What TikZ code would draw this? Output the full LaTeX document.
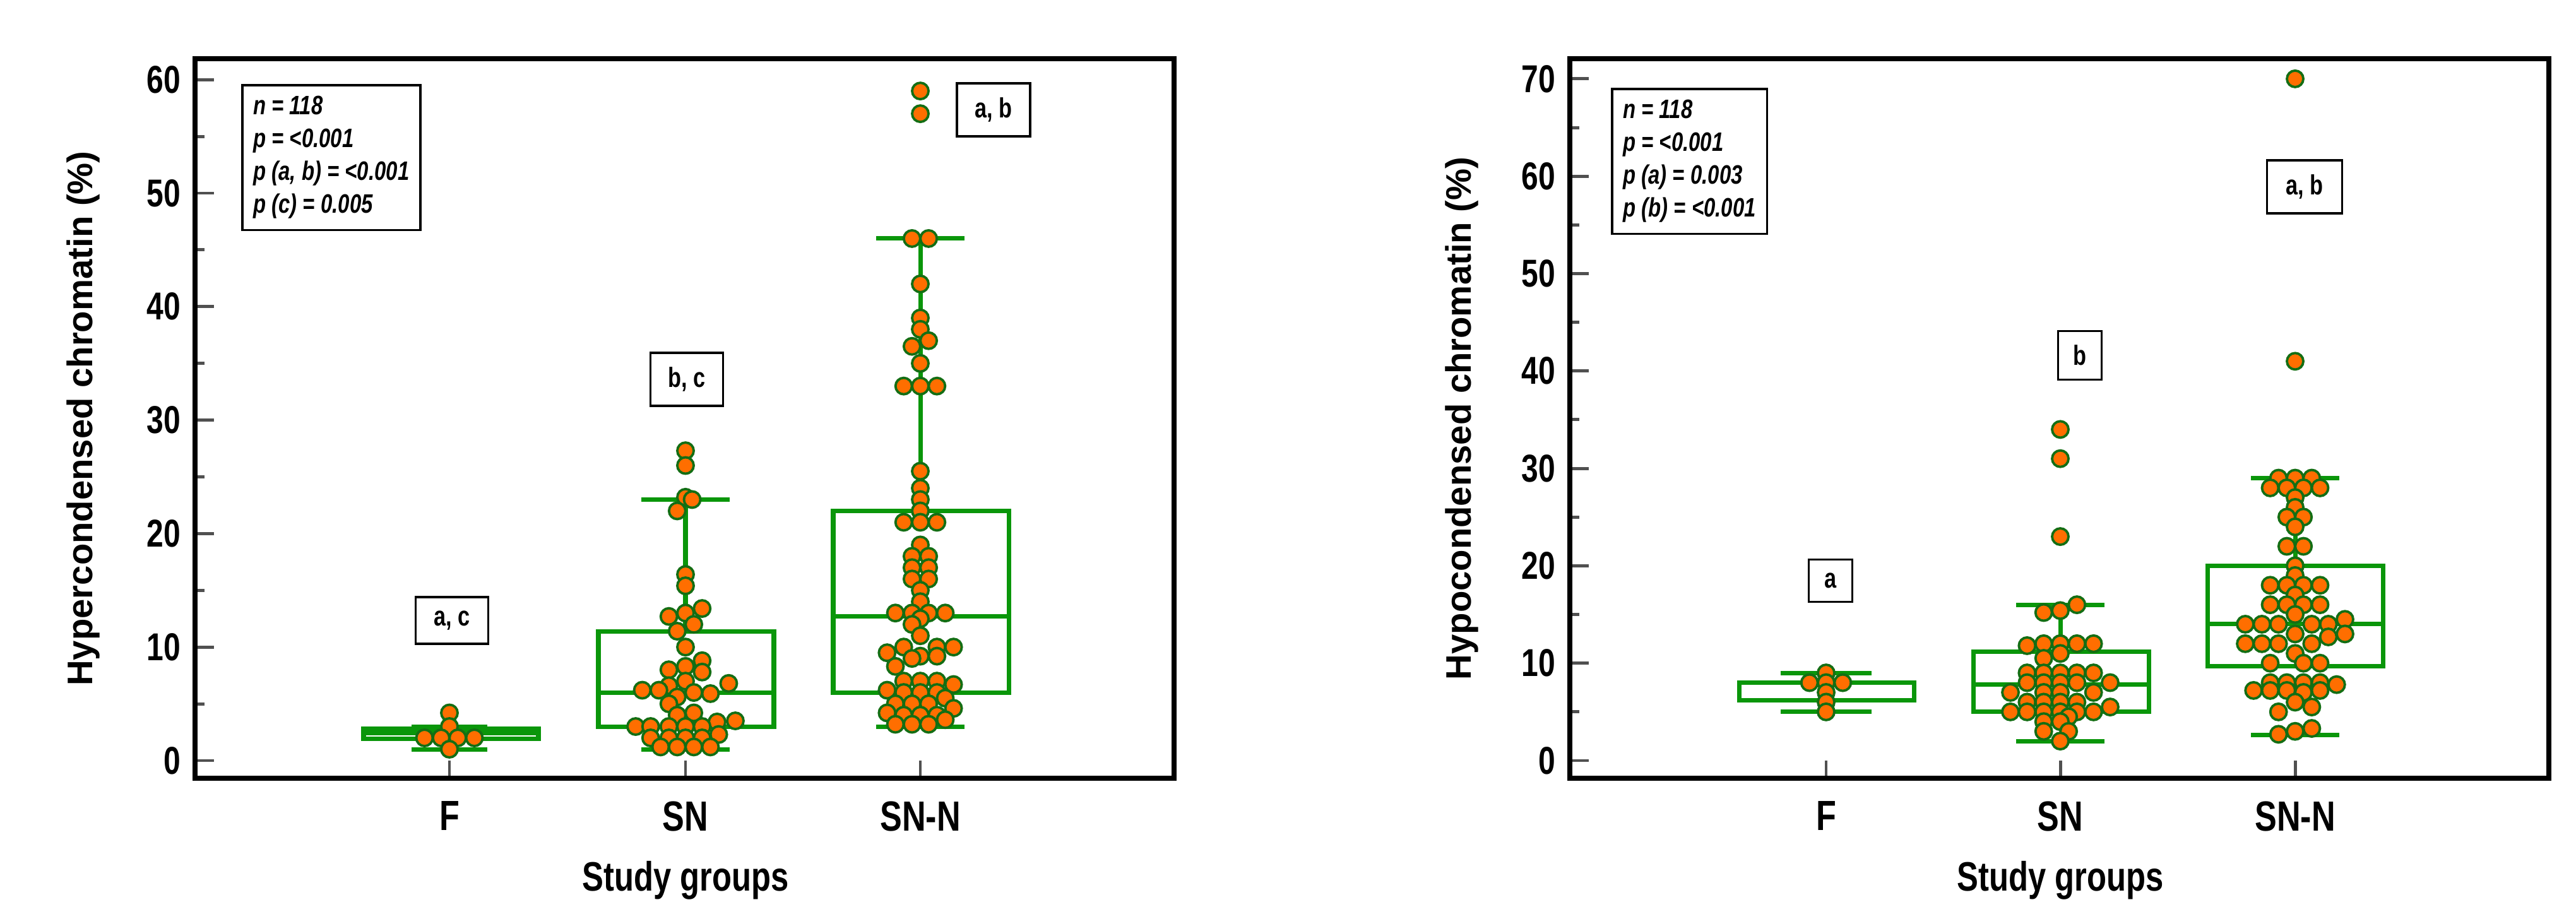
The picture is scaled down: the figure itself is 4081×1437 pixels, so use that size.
\documentclass[tikz,border=0pt]{standalone}
\usepackage{fontspec}
\setmainfont{Liberation Sans}
\newfontfamily\cond{Liberation Sans}[FakeStretch=0.78]
\definecolor{bxg}{RGB}{10,150,10}
\definecolor{dotor}{RGB}{255,110,0}
\definecolor{dotbd}{RGB}{20,110,20}
\definecolor{tkg}{RGB}{80,80,80}
\tikzset{
 frame/.style={draw=black,line width=2.2pt},
 bx/.style={draw=bxg,line width=2pt},
 dotst/.style={fill=dotor,draw=dotbd,line width=1.1pt},
 tk/.style={draw=tkg,line width=1.4pt},
 ticklab/.style={anchor=east,font=\cond\bfseries\fontsize{17.5}{19}\selectfont,inner sep=0pt},
 catlab/.style={font=\cond\bfseries\fontsize{19}{21}\selectfont},
 axlab/.style={font=\cond\bfseries\fontsize{18.5}{21}\selectfont},
 ylab/.style={font=\bfseries\fontsize{16}{18}\selectfont,rotate=90},
 legbox/.style={draw,line width=1pt,align=left,anchor=north west,font=\cond\itshape\bfseries\fontsize{12}{14.8}\selectfont,inner xsep=5pt,inner ysep=5pt},
 annbox/.style={draw,line width=1pt,font=\cond\bfseries\fontsize{12.5}{14}\selectfont,inner sep=0pt},
}
\begin{document}
\begin{tikzpicture}[x=0.01cm,y=-0.01cm]
\useasboundingbox (0,0) rectangle (4081,1437);
\fill[white] (0,0) rectangle (4081,1437);
% ================= LEFT PLOT =================
\def\ys{17.98}
\def\yz{1205}
\foreach \v in {0,10,...,60}{
  \draw[tk] (309,{\yz-\v*\ys}) -- (339,{\yz-\v*\ys});
  \node[ticklab] at (287,{\yz-\v*\ys}) {\v};}
\foreach \v in {5,15,...,55}{
  \draw[tk] (309,{\yz-\v*\ys}) -- (324,{\yz-\v*\ys});}
\foreach \cx in {712,1086,1458}{\draw[tk] (\cx,1233) -- (\cx,\yz);}
\draw[bx] (576,{\yz-1.9*\ys}) rectangle (853,{\yz-2.8*\ys});
\draw[bx] (576,{\yz-2.4*\ys}) -- (853,{\yz-2.4*\ys});
\draw[bx] (652,{\yz-1*\ys}) -- (772,{\yz-1*\ys});
\draw[bx] (652,{\yz-3*\ys}) -- (772,{\yz-3*\ys});
\draw[bx] (948,{\yz-3*\ys}) rectangle (1226,{\yz-11.4*\ys});
\draw[bx] (948,{\yz-6*\ys}) -- (1226,{\yz-6*\ys});
\draw[bx] (1086,{\yz-11.4*\ys}) -- (1086,{\yz-23*\ys});
\draw[bx] (1016,{\yz-23*\ys}) -- (1156,{\yz-23*\ys});
\draw[bx] (1016,{\yz-1*\ys}) -- (1156,{\yz-1*\ys});
\draw[bx] (1320,{\yz-6*\ys}) rectangle (1598,{\yz-22*\ys});
\draw[bx] (1320,{\yz-12.7*\ys}) -- (1598,{\yz-12.7*\ys});
\draw[bx] (1458,{\yz-22*\ys}) -- (1458,{\yz-46*\ys});
\draw[bx] (1388,{\yz-46*\ys}) -- (1528,{\yz-46*\ys});
\draw[bx] (1388,{\yz-3*\ys}) -- (1528,{\yz-3*\ys});
\foreach \o/\v in {0/4.2,0/3,-30/2,-10/2,10/2,30/2,0/1}
  \draw[dotst] ({712+\o*1.316},{\yz-\v*\ys}) circle (13);
\foreach \o/\v in {0/27.3,0/26,0/23.2,8/23,-10/22,0/16.4,0/15.4,20/13.4,0/13,-20/12.7,10/12,-10/11.4,0/10,20/8.8,0/8.3,-20/8,20/7.8,0/7,52/6.8,-20/6.6,-52/6.2,-32/6.2,10/6,30/5.9,-10/5.6,-20/5,10/4.2,-10/4,60/3.5,38/3.4,-60/3,-42/3,-20/3,0/3,20/3,40/2.3,-42/2,-20/2,0/2,20/2,-30/1.2,-10/1.2,10/1.2,30/1.2}
  \draw[dotst] ({1086+\o*1.316},{\yz-\v*\ys}) circle (13);
\foreach \o/\v in {0/59,0/57,-10/46,10/46,0/42,0/39,0/38,10/37,-10/36.5,0/35,-20/33,0/33,20/33,0/25.5,0/24,0/23,0/22,-20/21,0/21,20/21,0/19,-10/18,10/18,-10/17,10/17,-10/16,10/16,0/15,0/14,-30/13,-10/13,10/13,30/13,0/12.5,-10/12,0/11,-20/10,20/10,40/10,-40/9.5,0/9.2,20/9.2,-10/9,-30/8.3,-20/7,0/7,20/7,40/6.7,-40/6.2,-20/6,0/6,20/6,30/5.5,-30/5,-10/5,10/5,40/4.6,-40/4.2,-20/4,0/4,20/4,30/3.6,-30/3.2,-10/3.2,10/3.2}
  \draw[dotst] ({1458+\o*1.316},{\yz-\v*\ys}) circle (13);
\draw[frame] (309,93) rectangle (1860,1233);
\node[legbox] (legL) at (382,133) {n = 118\\p = <0.001\\p (a, b) = <0.001\\p (c) = 0.005};
\node[annbox,minimum width=32.7pt,minimum height=21pt] (ac) at (716,983) {a, c};
\node[annbox,minimum width=32.7pt,minimum height=24pt] (bc) at (1088,601) {b, c};
\node[annbox,minimum width=33pt,minimum height=24pt] (abL) at (1574,174) {a, b};
\node[catlab] (F1) at (712,1293) {F};
\node[catlab] (S1) at (1086,1293) {SN};
\node[catlab] (N1) at (1458,1293) {SN-N};
\node[axlab] (xl1) at (1086,1395) {Study groups};
\node[ylab] (yl1) at (132,663) {Hypercondensed chromatin (\%)};
% ================= RIGHT PLOT =================
\def\yr{15.43}
\foreach \v in {0,10,...,70}{
  \draw[tk] (2487,{\yz-\v*\yr}) -- (2517,{\yz-\v*\yr});
  \node[ticklab] at (2465,{\yz-\v*\yr}) {\v};}
\foreach \v in {5,15,...,65}{
  \draw[tk] (2487,{\yz-\v*\yr}) -- (2502,{\yz-\v*\yr});}
\foreach \cx in {2893,3264,3636}{\draw[tk] (\cx,1233) -- (\cx,\yz);}
\draw[bx] (2755,{\yz-6.2*\yr}) rectangle (3032,{\yz-8*\yr});
\draw[bx] (2821,{\yz-5*\yr}) -- (2965,{\yz-5*\yr});
\draw[bx] (2821,{\yz-9*\yr}) -- (2965,{\yz-9*\yr});
\draw[bx] (3126,{\yz-5*\yr}) rectangle (3404,{\yz-11.2*\yr});
\draw[bx] (3126,{\yz-7.8*\yr}) -- (3404,{\yz-7.8*\yr});
\draw[bx] (3264,{\yz-11.2*\yr}) -- (3264,{\yz-16*\yr});
\draw[bx] (3194,{\yz-16*\yr}) -- (3334,{\yz-16*\yr});
\draw[bx] (3194,{\yz-2*\yr}) -- (3334,{\yz-2*\yr});
\draw[bx] (3497,{\yz-9.7*\yr}) rectangle (3775,{\yz-20*\yr});
\draw[bx] (3497,{\yz-14*\yr}) -- (3775,{\yz-14*\yr});
\draw[bx] (3636,{\yz-20*\yr}) -- (3636,{\yz-29*\yr});
\draw[bx] (3566,{\yz-29*\yr}) -- (3706,{\yz-29*\yr});
\draw[bx] (3566,{\yz-2.6*\yr}) -- (3706,{\yz-2.6*\yr});
\foreach \o/\v in {0/9,-20/8,0/8,20/8,0/7,0/6,0/5}
  \draw[dotst] ({2893+\o*1.316},{\yz-\v*\yr}) circle (13);
\foreach \o/\v in {0/34,0/31,0/23,20/16,0/15.4,-20/15.2,-40/11.8,-20/12,0/12,20/12,40/12,0/11,-20/10.5,-40/9,-20/9,0/9,20/9,40/9,-40/8,-20/8,0/8,20/8,60/8,-60/7,-20/7,0/7,40/7,-40/6,-20/6,0/6,20/6,60/5.5,-60/5,-40/5,-20/5,0/5,20/5,40/5,10/4.5,-20/4,0/4,-20/3,10/3,0/2}
  \draw[dotst] ({3264+\o*1.316},{\yz-\v*\yr}) circle (13);
\foreach \o/\v in {0/70,0/41,-20/29,0/29,20/29,-30/28,-10/28,10/28,30/28,0/27,0/26,-10/25,10/25,0/24,-10/22,10/22,0/20,0/19,-30/18,-10/18,10/18,30/18,0/17,-30/16,-10/16,10/16,30/16,0/15,-60/14,-40/14,-20/14,20/14,40/14,60/14.5,0/13,40/12.7,60/13,-60/12,-40/12,-20/12,20/12,0/11,-30/10,10/10,30/10,-30/8,-10/8,10/8,30/8,50/7.8,-50/7.2,-30/7.2,-10/7.2,10/7,30/7.2,0/6,-20/5,20/5.5,0/3,-20/2.7,20/3.3}
  \draw[dotst] ({3636+\o*1.316},{\yz-\v*\yr}) circle (13);
\draw[frame] (2487,93) rectangle (4038,1233);
\node[legbox] (legR) at (2552,139) {n = 118\\p = <0.001\\p (a) = 0.003\\p (b) = <0.001};
\node[annbox,minimum width=19.6pt,minimum height=19pt] (aR) at (2900,920) {a};
\node[annbox,minimum width=19.6pt,minimum height=22pt] (bR) at (3295,563) {b};
\node[annbox,minimum width=33.8pt,minimum height=24pt] (abR) at (3651,296) {a, b};
\node[catlab] (F2) at (2893,1293) {F};
\node[catlab] (S2) at (3264,1293) {SN};
\node[catlab] (N2) at (3636,1293) {SN-N};
\node[axlab] (xl2) at (3264,1395) {Study groups};
\node[ylab] (yl2) at (2316,663) {Hypocondensed chromatin (\%)};
\end{tikzpicture}
\end{document}
